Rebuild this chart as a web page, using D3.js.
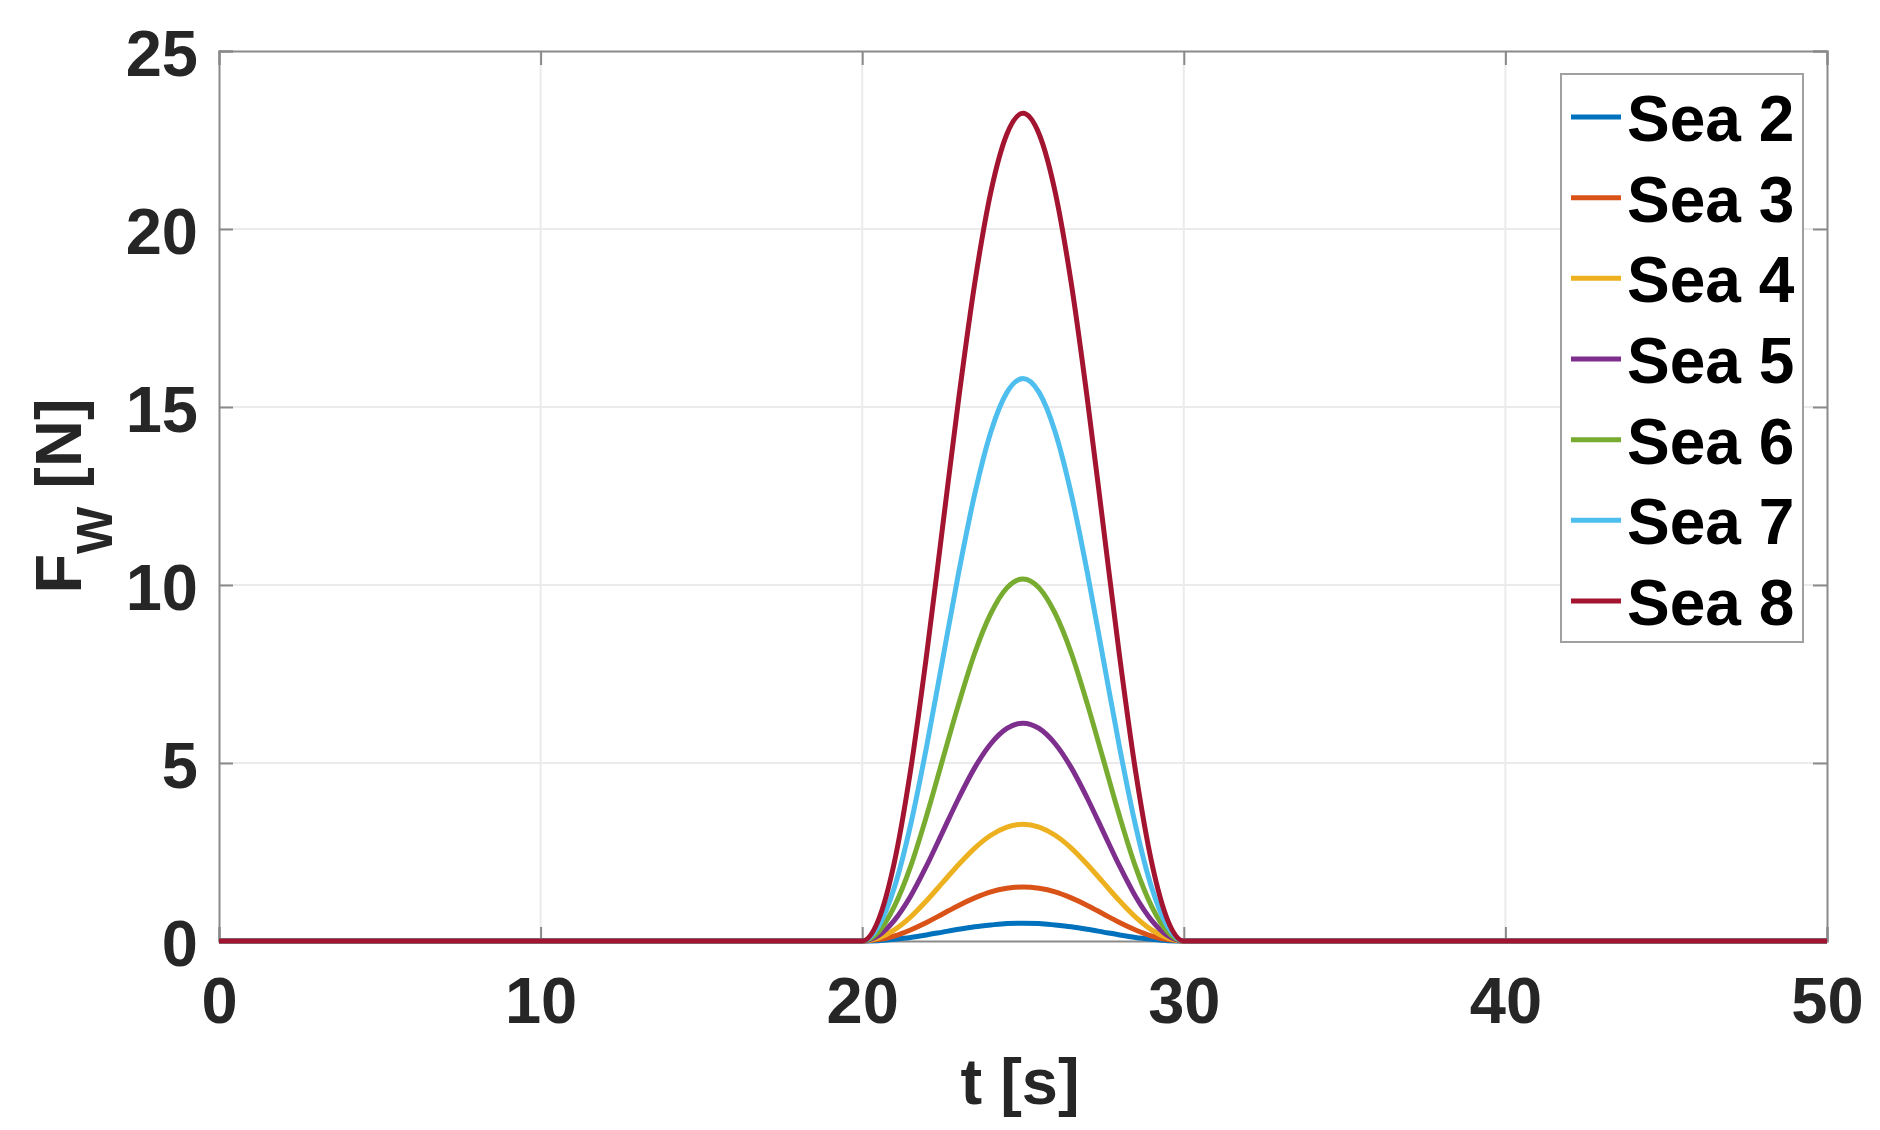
<!DOCTYPE html>
<html>
<head>
<meta charset="utf-8">
<script src="https://cdn.jsdelivr.net/npm/d3@7"></script>
<style>
  html, body { margin: 0; padding: 0; background: #fff; }
  svg { display: block; }
  text { font-family: "Liberation Sans", Arial, Helvetica, sans-serif; font-weight: bold; }
</style>
</head>
<body>
<svg id="chart" width="1880" height="1130"></svg>
<script>
// ---- data ----
const tValues = [0, 20, 20.5, 21, 21.5, 22, 22.5, 23, 23.5, 24, 24.5, 25, 25.5, 26, 26.5, 27, 27.5, 28, 28.5, 29, 29.5, 30, 50];

const seriesNames = ["Sea 2", "Sea 3", "Sea 4", "Sea 5", "Sea 6", "Sea 7", "Sea 8"];

const sea2 = [0, 0, 0.01, 0.05, 0.10, 0.17, 0.25, 0.33, 0.40, 0.45, 0.49, 0.50, 0.49, 0.45, 0.40, 0.33, 0.25, 0.17, 0.10, 0.05, 0.01, 0, 0];
const sea3 = [0, 0, 0.04, 0.14, 0.31, 0.52, 0.76, 1.00, 1.21, 1.38, 1.48, 1.52, 1.48, 1.38, 1.21, 1.00, 0.76, 0.52, 0.31, 0.14, 0.04, 0, 0];
const sea4 = [0, 0, 0.08, 0.31, 0.67, 1.13, 1.64, 2.15, 2.61, 2.97, 3.20, 3.28, 3.20, 2.97, 2.61, 2.15, 1.64, 1.13, 0.67, 0.31, 0.08, 0, 0];
const sea5 = [0, 0, 0.15, 0.58, 1.25, 2.11, 3.06, 4.01, 4.87, 5.54, 5.97, 6.12, 5.97, 5.54, 4.87, 4.01, 3.06, 2.11, 1.25, 0.58, 0.15, 0, 0];
const sea6 = [0, 0, 0.25, 0.97, 2.08, 3.51, 5.09, 6.66, 8.09, 9.20, 9.92, 10.17, 9.92, 9.20, 8.09, 6.66, 5.09, 3.51, 2.08, 0.97, 0.25, 0, 0];
const sea7 = [0, 0, 0.40, 1.50, 3.24, 5.45, 7.90, 10.35, 12.56, 14.30, 15.41, 15.80, 15.41, 14.30, 12.56, 10.35, 7.90, 5.45, 3.24, 1.50, 0.40, 0, 0];
const sea8 = [0, 0, 0.58, 2.21, 4.77, 8.02, 11.63, 15.23, 18.48, 21.04, 22.67, 23.25, 22.67, 21.04, 18.48, 15.23, 11.63, 8.02, 4.77, 2.21, 0.58, 0, 0];

const seriesValues = [sea2, sea3, sea4, sea5, sea6, sea7, sea8];
const seriesColors = ["#0072BD", "#D95319", "#EDB120", "#7E2F8E", "#77AC30", "#4DBEEE", "#A2142F"];

const xTicks = [0, 10, 20, 30, 40, 50];
const yTicks = [0, 5, 10, 15, 20, 25];

// ---- layout ----
const L = 219, R = 1827, T = 51, B = 941;

const svg = d3.select("#chart");
svg.append("rect").attr("width", 1880).attr("height", 1130).attr("fill", "#fff");

const x = d3.scaleLinear().domain([0, 50]).range([L, R]);
const y = d3.scaleLinear().domain([0, 25]).range([B, T]);

// grid
const grid = svg.append("g");
grid.selectAll("line.gx").data(xTicks.slice(1, -1)).enter().append("line")
  .attr("x1", d => x(d)).attr("x2", d => x(d)).attr("y1", T).attr("y2", B)
  .attr("stroke", "#ebebeb").attr("stroke-width", 2);
grid.selectAll("line.gy").data(yTicks.slice(1, -1)).enter().append("line")
  .attr("y1", d => y(d)).attr("y2", d => y(d)).attr("x1", L).attr("x2", R)
  .attr("stroke", "#ebebeb").attr("stroke-width", 2);

// axes (box with inward ticks on all sides)
const axisColor = "#8a8a8a";
const tickLen = 14;
const axisBottom = d3.axisBottom(x).tickValues(xTicks).tickSize(-tickLen).tickPadding(tickLen + 20);
const axisLeft = d3.axisLeft(y).tickValues(yTicks).tickSize(-tickLen).tickPadding(tickLen + 7);
const axisTop = d3.axisTop(x).tickValues(xTicks).tickSize(-tickLen).tickFormat("");
const axisRight = d3.axisRight(y).tickValues(yTicks).tickSize(-tickLen).tickFormat("");

function styleAxis(g) {
  g.select(".domain").attr("stroke", axisColor).attr("stroke-width", 2);
  g.selectAll(".tick line").attr("stroke", axisColor).attr("stroke-width", 2);
  g.selectAll(".tick text").attr("fill", "#262626").attr("font-size", 65)
    .attr("font-family", "Liberation Sans, Arial, sans-serif").attr("font-weight", "bold");
}

const gx = svg.append("g").attr("transform", `translate(0,${B})`).call(axisBottom);
styleAxis(gx);
gx.selectAll(".tick text").attr("dy", null).attr("y", 82).attr("dominant-baseline", "alphabetic");

const gy = svg.append("g").attr("transform", `translate(${L},0)`).call(axisLeft);
styleAxis(gy);
gy.selectAll(".tick text").attr("dy", null).attr("dominant-baseline", "alphabetic").attr("transform", "translate(0,24)");

const gt = svg.append("g").attr("transform", `translate(0,${T})`).call(axisTop);
styleAxis(gt);
const gr = svg.append("g").attr("transform", `translate(${R},0)`).call(axisRight);
styleAxis(gr);

// lines
const line = d3.line()
  .x((d, i) => x(tValues[i]))
  .y(d => y(d))
  .curve(d3.curveMonotoneX);

svg.append("g").selectAll("path").data(seriesValues).enter().append("path")
  .attr("d", d => line(d))
  .attr("fill", "none")
  .attr("stroke", (d, i) => seriesColors[i])
  .attr("stroke-width", 5)
  .attr("stroke-linejoin", "round");

// axis labels
svg.append("text")
  .attr("x", 1020).attr("y", 1104)
  .attr("text-anchor", "middle")
  .attr("font-size", 65).attr("fill", "#262626")
  .text("t [s]");

const yl = svg.append("text")
  .attr("transform", "translate(81,496) rotate(-90)")
  .attr("text-anchor", "middle")
  .attr("fill", "#262626");
yl.append("tspan").attr("font-size", 65).text("F");
yl.append("tspan").attr("font-size", 50).attr("dy", 31).text("W");
yl.append("tspan").attr("font-size", 65).attr("dy", -31).text(" [N]");

// legend
const lg = svg.append("g");
const LX0 = 1561, LX1 = 1803, LY0 = 74, LY1 = 642;
lg.append("rect")
  .attr("x", LX0).attr("y", LY0).attr("width", LX1 - LX0).attr("height", LY1 - LY0)
  .attr("fill", "#fff").attr("stroke", "#a0a0a0").attr("stroke-width", 2);

const legY = d3.scalePoint().domain(seriesNames).range([117, 601]);
const items = lg.selectAll("g.item").data(seriesNames).enter().append("g")
  .attr("transform", d => `translate(0,${legY(d)})`);
items.append("line")
  .attr("x1", 1571).attr("x2", 1621).attr("y1", 0).attr("y2", 0)
  .attr("stroke", (d, i) => seriesColors[i]).attr("stroke-width", 5);
items.append("text")
  .attr("x", 1627).attr("y", 24)
  .attr("font-size", 64).attr("fill", "#000")
  .text(d => d);
</script>
</body>
</html>
